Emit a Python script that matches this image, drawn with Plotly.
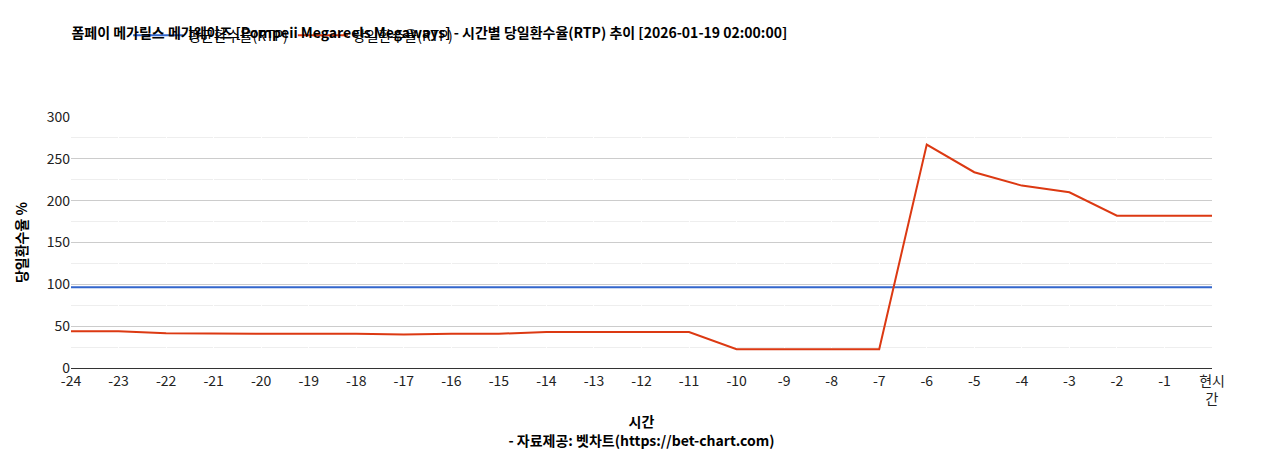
import plotly.graph_objects as go

categories = [str(i) for i in range(-24, 0)] + ["현시<br>간"]
avg_rtp = [96.4] * 25
daily_rtp = [44, 44, 41.5, 41, 41, 41, 41, 40, 41, 41, 43, 43, 43, 43,
             22.5, 22.5, 22.5, 22.5, 267, 234, 218, 210, 182, 182, 182]

fig = go.Figure()
fig.add_trace(go.Scatter(x=categories, y=avg_rtp, mode="lines", name="평균환수율(RTP)",
                         line=dict(color="#3366cc", width=2)))
fig.add_trace(go.Scatter(x=categories, y=daily_rtp, mode="lines", name="당일환수율(RTP)",
                         line=dict(color="#dc3912", width=2)))
fig.update_layout(
    width=1268, height=450, plot_bgcolor="white", paper_bgcolor="white",
    font=dict(family="Noto Sans CJK KR, Noto Sans", size=13, color="#222"),
    margin=dict(l=63, r=64, t=86, b=87),
    title=dict(text="<b>폼페이 메가릴스 메가웨이즈 [Pompeii Megareels Megaways] - 시간별 당일환수율(RTP) 추이 [2026-01-19 02:00:00]</b>",
               x=0.05, xanchor="left", y=0.955, yanchor="top", font=dict(size=14, color="#000")),
    legend=dict(orientation="h", x=0.05, xanchor="left", y=1.26, yanchor="bottom",
                font=dict(size=14, color="#000"), itemwidth=50),
    showlegend=True,
    xaxis=dict(title=dict(text="<b>시간</b><br><b>- 자료제공: 벳차트(https://bet-chart.com)</b>", font=dict(size=14, color="#000"), standoff=10),
               showline=True, linecolor="#333", ticks="", tickfont=dict(size=14, color="#222")),
    yaxis=dict(title=dict(text="<b>당일환수율 %</b>", font=dict(size=14, color="#000")),
               range=[0, 300], dtick=50, gridcolor="#cccccc", zeroline=False,
               tickfont=dict(size=14, color="#222"),
               minor=dict(dtick=25, gridcolor="#eeeeee", showgrid=True)),
)
fig.write_html("out.html")
